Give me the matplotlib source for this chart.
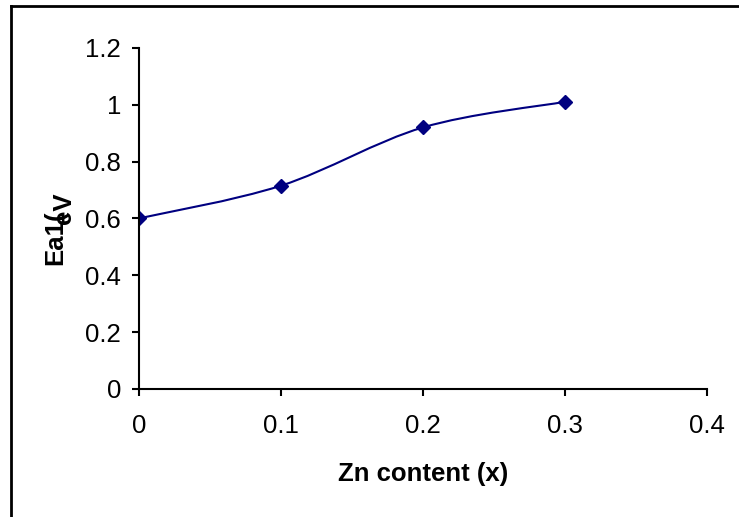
"""
Ea1 vs Zn content, Excel-style smoothed line.
"""

import numpy as np
import matplotlib.pyplot as plt
from matplotlib.path import Path
from matplotlib.patches import PathPatch
from matplotlib.lines import Line2D

zn = [0.0, 0.1, 0.2, 0.3]
ea1 = [0.60, 0.715, 0.92, 1.01]
xticks = [0, 0.1, 0.2, 0.3, 0.4]
yticks = [0, 0.2, 0.4, 0.6, 0.8, 1, 1.2]

plt.rcParams["font.family"] = ["Liberation Sans", "DejaVu Sans"]
navy = "#000080"
fs = 18.5

fig = plt.figure(figsize=(7.39, 5.17), dpi=100)
ax = fig.add_axes([0.188, 0.2476, 0.769, 0.660])

# smoothed curve through the points (catmull-rom as cubic beziers)
pts = np.column_stack([zn, ea1])
verts = [pts[0]]
codes = [Path.MOVETO]
for i in range(len(pts) - 1):
    p0 = pts[max(i - 1, 0)]
    p1 = pts[i]
    p2 = pts[i + 1]
    p3 = pts[min(i + 2, len(pts) - 1)]
    c1 = p1 + (p2 - p0) / 6
    c2 = p2 - (p3 - p1) / 6
    verts += [c1, c2, p2]
    codes += [Path.CURVE4] * 3
ax.add_patch(PathPatch(Path(verts, codes), facecolor="none", edgecolor=navy, lw=1.5))
ax.plot(zn, ea1, linestyle="none", marker="D", color=navy, markersize=7.5)

ax.set_xlim(0, 0.4)
ax.set_ylim(0, 1.2)
ax.set_xticks(xticks)
ax.set_xticklabels([f"{t:g}" for t in xticks])
ax.set_yticks(yticks)
ax.set_yticklabels([f"{t:g}" for t in yticks])
for s in ["top", "right"]:
    ax.spines[s].set_visible(False)
for s in ["left", "bottom"]:
    ax.spines[s].set_linewidth(1.5)
ax.tick_params(direction="out", length=5, width=1.5, labelsize=fs)
ax.tick_params(axis="x", pad=13)
ax.tick_params(axis="y", pad=8)

fig.text(423 / 739, 1 - 474 / 517, "Zn content (x)", ha="center", va="center",
         fontsize=fs, fontweight="bold")
# y label as it appears: "Ea1(" with "eV" overprinted
fig.text(55 / 739, 1 - 265 / 517, "Ea1(", rotation=90, ha="center", va="bottom",
         fontsize=fs, fontweight="bold")
fig.text(64.5 / 739, 1 - 192 / 517, "eV", rotation=90, ha="center", va="top",
         fontsize=fs, fontweight="bold")

# chart area border (only top and left visible in the crop)
fig.add_artist(Line2D([11 / 739, 11 / 739], [0, 1 - 6 / 517], color="k", lw=2,
                      transform=fig.transFigure))
fig.add_artist(Line2D([11 / 739, 1], [1 - 6 / 517, 1 - 6 / 517], color="k", lw=2,
                      transform=fig.transFigure))

plt.savefig("out.png", dpi=100)
